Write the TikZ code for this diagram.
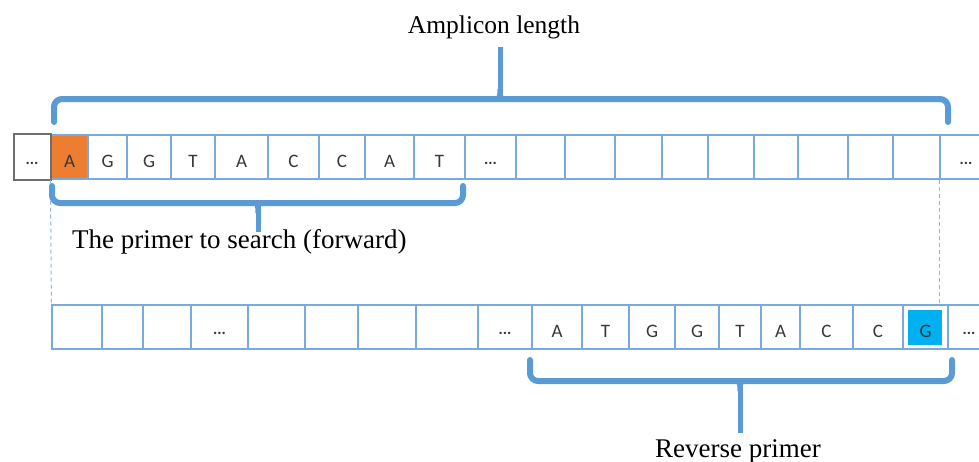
\documentclass[tikz,border=0pt]{standalone}
\usepackage{fontspec}
\setmainfont{Liberation Serif}
\newfontfamily\cellfont{Carlito}
\usetikzlibrary{calc}
\definecolor{bracecol}{RGB}{91,155,213}
\definecolor{cellline}{RGB}{120,170,222}
\definecolor{orangefill}{RGB}{237,125,49}
\definecolor{cyanfill}{RGB}{0,176,240}
\definecolor{lettercol}{RGB}{55,55,55}
\definecolor{graybox}{RGB}{110,110,110}
\definecolor{dashcol}{RGB}{140,185,230}
\newcommand\dotsx{\raisebox{2.5pt}{\fontsize{16}{16}\selectfont\bfseries...}}
\tikzset{
 cell/.style={draw=cellline, line width=1.2pt, inner sep=0pt, minimum height=44pt,
   font=\cellfont\fontsize{19}{19}\selectfont, text=lettercol, text height=20pt, text depth=0pt},
 brace/.style={draw=bracecol, line width=6pt, rounded corners=8pt, line cap=round},
 stem/.style={draw=bracecol, line width=5pt},
 lbl/.style={font=\fontsize{27}{30}\selectfont, inner sep=0pt},
 dashline/.style={draw=dashcol, line width=1pt, dash pattern=on 4pt off 3pt},
}
\begin{document}
\begin{tikzpicture}[x=1pt,y=-1pt]
\useasboundingbox (0,0) rectangle (979,461);
% top row
\foreach \l/\r/\t/\f [count=\i] in {51/88/A/orangefill, 88/127/G/white, 127/171/G/white,
  171/215/T/white, 215/268/A/white, 268/319/C/white, 319/365/C/white, 365/414/A/white,
  414/465/T/white, 465/516/\dotsx/white, 516/565//white, 565/615//white, 615/662//white,
  662/708//white, 708/754//white, 754/798//white, 798/848//white, 848/893//white,
  893/940//white, 940/992/\dotsx/white}
  \node[cell, fill=\f, minimum width={(\r-\l)*1pt}] (t\i) at ({(\l+\r)/2},157) {\t};
\node[cell, draw=graybox, line width=2pt, minimum width=37pt, minimum height=46pt] (t0) at (32,157) {\dotsx};
% bottom row
\foreach \l/\r/\t [count=\i] in {52/102/, 102/143/, 143/191/, 191/248/\dotsx, 248/305/,
  305/358/, 358/416/, 416/478/, 478/532/\dotsx, 532/582/A, 582/629/T, 629/675/G,
  675/719/G, 719/761/T, 761/800/A, 800/853/C, 853/903/C}
  \node[cell, minimum width={(\r-\l)*1pt}] (b\i) at ({(\l+\r)/2},327) {\t};
\node[cell, minimum width=45pt, path picture={\fill[cyanfill]
  ([xshift=5pt,yshift=-5pt]path picture bounding box.north west) rectangle
  ([xshift=-6pt,yshift=4pt]path picture bounding box.south east);}] (b18) at (925.5,327) {G};
\node[cell, minimum width=42pt] (b19) at (969,327) {\dotsx};
% dashed guides
\draw[dashline] (t1.south west) -- (b1.north west);
\draw[dashline] (t20.south west) -- (t20.south west |- b1.north);
% amplicon brace
\coordinate (aL) at (54,122);
\coordinate (aR) at (948,122);
\coordinate (aM) at (500,99);
\coordinate (aS) at (500,47);
\draw[brace] (aL) |- (aM) -| (aR);
\draw[stem] (aM) -- (aS);
\fill[bracecol] (490,100) .. controls (497.5,100) and (497.5,95) .. (497.5,89) -- (502.5,89) .. controls (502.5,95) and (502.5,100) .. (510,100) -- cycle;
\node[lbl, anchor=base, font=\fontsize{25.5}{30}\selectfont] (amp) at (494,33) {Amplicon length};
% forward brace
\coordinate (fL) at (52,186);
\coordinate (fR) at (463,186);
\coordinate (fM) at (258,203);
\coordinate (fS) at (258,232);
\draw[brace] (fL) |- (fM) -| (fR);
\draw[stem] (fM) -- (fS);
\fill[bracecol] (248,202) .. controls (255.5,202) and (255.5,207) .. (255.5,213) -- (260.5,213) .. controls (260.5,207) and (260.5,202) .. (268,202) -- cycle;
\node[lbl, anchor=base west] (fwd) at (72,248) {The primer to search (forward)};
% reverse brace
\coordinate (rL) at (530,360);
\coordinate (rR) at (952,360);
\coordinate (rM) at (740,381);
\coordinate (rS) at (740,433);
\draw[brace] (rL) |- (rM) -| (rR);
\draw[stem] (rM) -- (rS);
\fill[bracecol] (730,380) .. controls (737.5,380) and (737.5,385) .. (737.5,391) -- (742.5,391) .. controls (742.5,385) and (742.5,380) .. (750,380) -- cycle;
\node[lbl, anchor=base] (rev) at (738,457) {Reverse primer};
\end{tikzpicture}
\end{document}
